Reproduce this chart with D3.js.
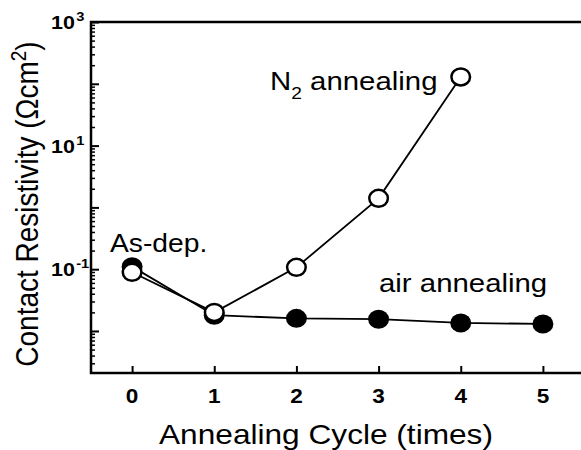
<!DOCTYPE html>
<html>
<head>
<meta charset="utf-8">
<script src="https://cdn.jsdelivr.net/npm/d3@7"></script>
<style>
  body { margin: 0; background: #fff; }
  text { font-family: "Liberation Sans", Arial, Helvetica, sans-serif; fill: #000; }
</style>
</head>
<body>
<div class="chart"></div>
<script>
// data
const cycles = [0, 1, 2, 3, 4, 5];
const n2Cycles = [0, 1, 2, 3, 4];
const n2Values = [0.089, 0.020, 0.107, 1.4, 129];
const airValues = [0.11, 0.018, 0.016, 0.0155, 0.0135, 0.013];
const yLabelExp = [3, 1, -1];

const width = 581, height = 450;
const sx = 1.13; // the scan is a bit wider than tall

const svg = d3.select(".chart")
    .append("svg")
    .attr("width", width)
    .attr("height", height);

const xScale = d3.scaleLinear()
    .domain([-0.5, 5.5])
    .range([91, 584]);

const yScale = d3.scaleLog()
    .domain([Math.pow(10, -2.68), 1000])
    .range([373, 22]);

// frame
svg.append("rect")
    .attr("x", xScale.range()[0])
    .attr("y", yScale.range()[1])
    .attr("width", xScale.range()[1] - xScale.range()[0])
    .attr("height", yScale.range()[0] - yScale.range()[1])
    .attr("fill", "none")
    .attr("stroke", "#000")
    .attr("stroke-width", 2.5);

// y ticks (inward)
const majorTicks = d3.range(-2, 4).map(e => Math.pow(10, e));
const minorTicks = yScale.ticks().filter(t => !majorTicks.some(m => Math.abs(m - t) / m < 1e-6));

const yMajor = d3.axisLeft(yScale).tickValues(majorTicks).tickSize(-8).tickFormat("");
const yMinor = d3.axisLeft(yScale).tickValues(minorTicks).tickSize(-4).tickFormat("");

svg.append("g").attr("transform", `translate(${xScale.range()[0]},0)`).call(yMajor)
    .call(g => g.select(".domain").remove())
    .selectAll("line").attr("stroke-width", 2);
svg.append("g").attr("transform", `translate(${xScale.range()[0]},0)`).call(yMinor)
    .call(g => g.select(".domain").remove())
    .selectAll("line").attr("stroke-width", 1.5);

// x ticks (inward)
const xAxis = d3.axisBottom(xScale).tickValues(cycles).tickSize(-7).tickFormat("");
svg.append("g").attr("transform", `translate(0,${yScale.range()[0]})`).call(xAxis)
    .call(g => g.select(".domain").remove())
    .selectAll("line").attr("stroke-width", 2);

// stretched text helper
function label(x, y, str, size, weight, anchor, rot) {
    const g = svg.append("g")
        .attr("transform", `translate(${x},${y}) scale(${sx},1)` + (rot ? ` rotate(${rot})` : ""));
    return g.append("text")
        .attr("font-size", size)
        .attr("font-weight", weight || "normal")
        .attr("text-anchor", anchor || "start")
        .text(str);
}

// x tick labels
cycles.forEach(c => {
    label(xScale(c), 403, c, 20, "bold", "middle");
});

// y tick labels 10^n
yLabelExp.forEach(e => {
    const t = label(75, yScale(Math.pow(10, e)) + 7, "10", 19, "bold", "end");
    const g = d3.select(t.node().parentNode);
    g.append("text")
        .attr("x", 1)
        .attr("y", -8)
        .attr("font-size", 13)
        .attr("font-weight", "bold")
        .text(e);
});

// axis titles
label(326, 444, "Annealing Cycle (times)", 28, "normal", "middle");
const yt = label(38, 204, "", 28, "normal", "middle", -90);
yt.append("tspan").text("Contact Resistivity (Ωcm");
yt.append("tspan").attr("font-size", 19).attr("dy", -11).text("2");
yt.append("tspan").attr("dy", 11).text(")");

// lines
const line = d3.line()
    .x(d => xScale(d[0]))
    .y(d => yScale(d[1]));

svg.append("path")
    .datum(cycles.map((c, i) => [c, airValues[i]]))
    .attr("d", line)
    .attr("fill", "none")
    .attr("stroke", "#000")
    .attr("stroke-width", 1.8);

svg.append("path")
    .datum(n2Cycles.map((c, i) => [c, n2Values[i]]))
    .attr("d", line)
    .attr("fill", "none")
    .attr("stroke", "#000")
    .attr("stroke-width", 1.8);

// markers
svg.selectAll(".air")
    .data(airValues)
    .join("ellipse")
    .attr("class", "air")
    .attr("cx", (d, i) => xScale(cycles[i]))
    .attr("cy", d => yScale(d))
    .attr("rx", 10.5)
    .attr("ry", 9.5)
    .attr("fill", "#000");

svg.selectAll(".n2")
    .data(n2Values)
    .join("ellipse")
    .attr("class", "n2")
    .attr("cx", (d, i) => xScale(n2Cycles[i]))
    .attr("cy", d => yScale(d))
    .attr("rx", 9.3)
    .attr("ry", 8.5)
    .attr("fill", "#fff")
    .attr("stroke", "#000")
    .attr("stroke-width", 2.5);

// annotations
const n2t = label(270, 90, "N", 26);
n2t.append("tspan").attr("font-size", 17).attr("dy", 9).text("2");
n2t.append("tspan").attr("dy", -9).text(" annealing");

label(379, 292, "air annealing", 26);
label(110, 252, "As-dep.", 25);
</script>
</body>
</html>
